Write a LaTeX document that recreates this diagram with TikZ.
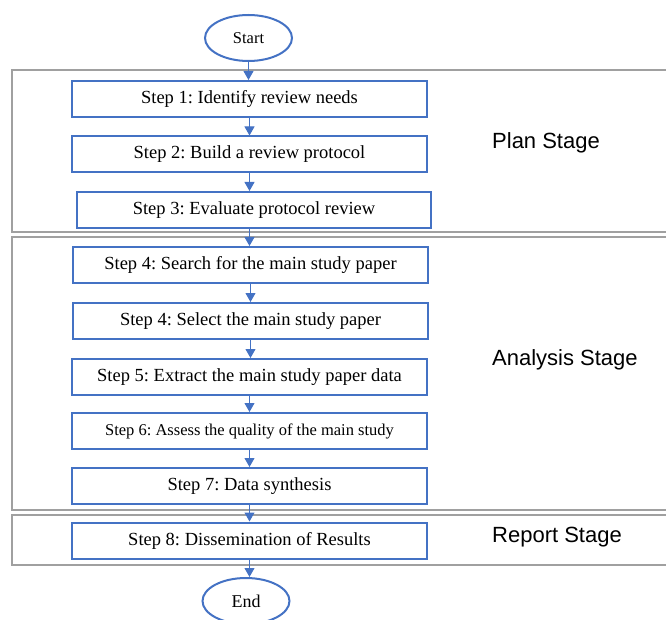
\documentclass[tikz,border=0pt]{standalone}
\usepackage{fontspec}
\setmainfont{Liberation Serif}
\newfontfamily\arialf{Liberation Sans}
\usetikzlibrary{arrows.meta,shapes.geometric}
\definecolor{boxblue}{HTML}{4472C4}
\definecolor{stagegray}{HTML}{A0A0A0}
\frenchspacing
\tikzset{
  stepbox/.style={draw=boxblue, line width=2pt, minimum width=355pt, minimum height=36pt, inner sep=0pt, font=\fontsize{18.5}{21}\selectfont},
  termnode/.style={draw=boxblue, line width=2pt, ellipse, minimum width=87pt, minimum height=46pt, inner sep=0pt},
  flow/.style={draw=boxblue, line width=1pt, -{Triangle[width=10pt,length=9pt]}},
  stageline/.style={draw=stagegray, line width=1.8pt},
  stagelabel/.style={anchor=west, inner sep=0pt, font=\arialf\fontsize{22}{26}\selectfont}
}
\begin{document}
\begin{tikzpicture}[x=1pt,y=-1pt]
\useasboundingbox (0,0) rectangle (666,620);
% stage frames (open on the right)
\draw[stageline] (670,70) -- (12,70) -- (12,232) -- (670,232);
\draw[stageline] (670,237) -- (12,237) -- (12,510) -- (670,510);
\draw[stageline] (670,515) -- (12,515) -- (12,565) -- (670,565);
% stage labels
\node[stagelabel] (plan) at (492,143) {Plan Stage};
\node[stagelabel] (analysis) at (492,360) {Analysis Stage};
\node[stagelabel] (report) at (492,537) {Report Stage};
% nodes
\node[termnode, font=\fontsize{16.5}{18}\selectfont] (start) at (248.5,38) {Start};
\node[stepbox] (s1) at (249.5,99) {Step 1: Identify review needs};
\node[stepbox] (s2) at (249.5,154.5) {Step 2: Build a review protocol};
\node[stepbox, minimum width=354pt] (s3) at (254,210) {Step 3: Evaluate protocol review};
\node[stepbox] (s4a) at (250.5,265) {Step 4: Search for the main study paper};
\node[stepbox] (s4b) at (250.5,321) {Step 4: Select the main study paper};
\node[stepbox] (s5) at (249.5,377) {Step 5: Extract the main study paper data};
\node[stepbox, font=\fontsize{16.5}{18}\selectfont] (s6) at (249.5,431) {Step 6: Assess the quality of the main study};
\node[stepbox] (s7) at (249.5,486) {Step 7: Data synthesis};
\node[stepbox] (s8) at (249.5,540.5) {Step 8: Dissemination of Results};
\node[termnode, font=\fontsize{18}{20}\selectfont] (end) at (246,601) {End};
% connectors
\draw[flow] (start.south) -- (start.south |- s1.north);
\draw[flow] (s1.south) -- (s1.south |- s2.north);
\draw[flow] (s2.south) -- (s2.south |- s3.north);
\draw[flow] (s2.south |- s3.south) -- (s2.south |- s4a.north);
\draw[flow] (s4a.south) -- (s4a.south |- s4b.north);
\draw[flow] (s4b.south) -- (s4b.south |- s5.north);
\draw[flow] (s5.south) -- (s5.south |- s6.north);
\draw[flow] (s6.south) -- (s6.south |- s7.north);
\draw[flow] (s7.south) -- (s7.south |- s8.north);
\draw[flow] (s8.south) -- (s8.south |- end.north);
\end{tikzpicture}
\end{document}
